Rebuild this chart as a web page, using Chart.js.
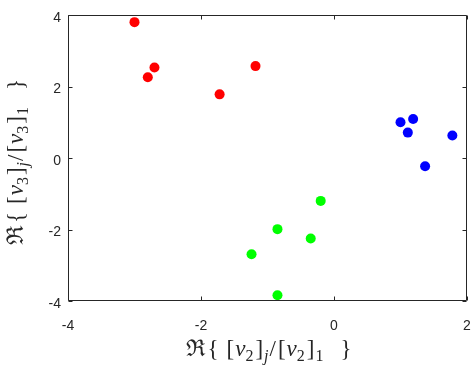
<!DOCTYPE html>
<html><head><meta charset="utf-8">
<script src="https://cdn.jsdelivr.net/npm/chart.js@4.4.0/dist/chart.umd.min.js"></script>
<style>html,body{margin:0;padding:0;background:#fff}canvas{display:block}</style>
</head><body>
<canvas id="c" width="475" height="368"></canvas>
<script>
// ---- data ----
const redX   = [-3.00, -2.80, -2.70, -1.72, -1.18];
const redY   = [ 3.80,  2.26,  2.53,  1.78,  2.57];
const blueX  = [ 1.00,  1.19,  1.11,  1.78,  1.37];
const blueY  = [ 1.00,  1.09,  0.71,  0.63, -0.23];
const greenX = [-0.20, -0.85, -0.35, -1.24, -0.85];
const greenY = [-1.20, -1.99, -2.25, -2.69, -3.84];
const xTickValues = [-4, -2, 0, 2];
const yTickValues = [-4, -2, 0, 2, 4];
// axis titles as text pieces: [text, kind] r=roman i=italic s=subscript si=italic subscript
const xTitle = [['ℜ','r'],['{','r'],['[','r'],['v','i'],['2','s'],[']','r'],['j','si'],['/','r'],['[','r'],['v','i'],['2','s'],[']','r'],['1','s'],['}','r']];
const yTitle = [['ℜ','r'],['{','r'],['[','r'],['v','i'],['3','s'],[']','r'],['j','si'],['/','r'],['[','r'],['v','i'],['3','s'],[']','r'],['1','s'],['}','r']];

// ---- styling ----
const AX = '#262626';
const SERIF = '"Liberation Serif", "DejaVu Serif", serif';
const SANS = '"Liberation Sans", Arial, sans-serif';
const GAPS = [0, 2, 8, 1, 0, 2, 1, 1, 2, 1, 0, 2, 1, 17]; // extra space before each piece

function pts(xs, ys){ return xs.map((x,i)=>({x:x, y:ys[i]})); }

function fontFor(k){
  const sub = k[0]==='s';
  const it = k.indexOf('i')>=0;
  return (it?'italic ':'') + (sub?'16px ':'23px ') + SERIF;
}
function drawPieces(ctx, pieces, cx, cy){
  let w = 0;
  pieces.forEach((p,i)=>{ ctx.font = fontFor(p[1]); w += GAPS[i] + ctx.measureText(p[0]).width; });
  let x = cx - w/2;
  ctx.textBaseline = 'alphabetic';
  ctx.textAlign = 'left';
  pieces.forEach((p,i)=>{
    x += GAPS[i];
    ctx.font = fontFor(p[1]);
    const dy = p[1][0]==='s' ? 5 : 0;
    ctx.fillText(p[0], x, cy + dy);
    x += ctx.measureText(p[0]).width;
  });
}

const boxPlugin = {
  id:'box',
  afterDraw(chart){
    const ctx = chart.ctx, a = chart.chartArea;
    const xs = chart.scales.x, ys = chart.scales.y;
    ctx.save();
    ctx.strokeStyle = AX; ctx.lineWidth = 1;
    const L = Math.round(a.left)+0.5, R = Math.round(a.right)-0.5, T = Math.round(a.top)+0.5, B = Math.round(a.bottom)-0.5;
    ctx.beginPath();
    ctx.rect(L, T, R-L, B-T);
    const tl = 4;
    xTickValues.forEach(v=>{
      const px = Math.round(xs.getPixelForValue(v))+0.5;
      ctx.moveTo(px, B); ctx.lineTo(px, B-tl);
      ctx.moveTo(px, T); ctx.lineTo(px, T+tl);
    });
    yTickValues.forEach(v=>{
      const py = Math.round(ys.getPixelForValue(v))+0.5;
      ctx.moveTo(L, py); ctx.lineTo(L+tl, py);
      ctx.moveTo(R, py); ctx.lineTo(R-tl, py);
    });
    ctx.stroke();
    // axis titles
    ctx.fillStyle = AX;
    drawPieces(ctx, xTitle, (a.left+a.right)/2 + 1, 356);
    ctx.translate(23, (a.top+a.bottom)/2 + 4);
    ctx.rotate(-Math.PI/2);
    drawPieces(ctx, yTitle, 0, 0);
    ctx.restore();
  }
};

function tickScale(values){
  return function(s){ s.ticks = values.map(v=>({value:v})); };
}

new Chart(document.getElementById('c'), {
  type:'scatter',
  data:{datasets:[
    {data:pts(redX,redY), backgroundColor:'#ff0000', borderColor:'#ff0000', pointRadius:5, borderWidth:0},
    {data:pts(blueX,blueY), backgroundColor:'#0000ff', borderColor:'#0000ff', pointRadius:5, borderWidth:0},
    {data:pts(greenX,greenY), backgroundColor:'#00ff00', borderColor:'#00ff00', pointRadius:5, borderWidth:0}
  ]},
  options:{
    responsive:false, animation:false, devicePixelRatio:1,
    layout:{padding:{left:0,right:8,top:15,bottom:0}},
    plugins:{legend:{display:false}, tooltip:{enabled:false}},
    scales:{
      x:{type:'linear', min:-4, max:2,
         afterBuildTicks:tickScale(xTickValues),
         ticks:{font:{family:SANS, size:14}, color:AX, padding:17, maxRotation:0},
         grid:{display:false, drawTicks:false}, border:{display:false},
         afterFit(s){ s.height = 67; s.paddingLeft = 0; s.paddingRight = 0; }},
      y:{type:'linear', min:-4, max:4,
         afterBuildTicks:tickScale(yTickValues),
         ticks:{font:{family:SANS, size:14}, color:AX, padding:7, labelOffset:3},
         grid:{display:false, drawTicks:false}, border:{display:false},
         afterFit(s){ s.width = 68; s.paddingTop = 0; s.paddingBottom = 0; }}
    }
  },
  plugins:[boxPlugin]
});
</script>
</body></html>
